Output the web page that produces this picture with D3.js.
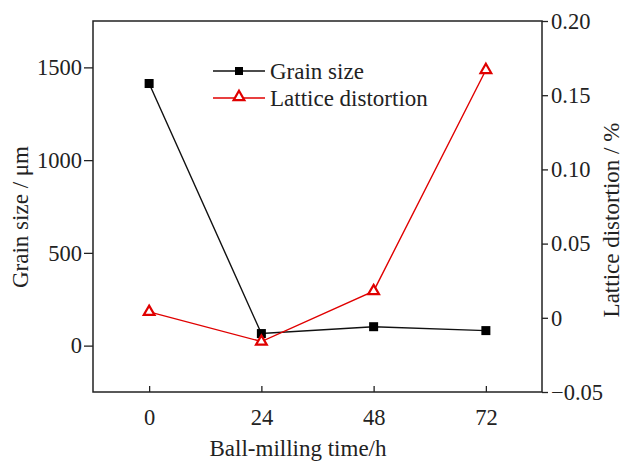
<!DOCTYPE html>
<html>
<head>
<meta charset="utf-8">
<script src="https://cdn.jsdelivr.net/npm/d3@7"></script>
<style>
  body { margin: 0; background: #fff; }
  text { font-family: "Liberation Serif", "Times New Roman", serif; fill: #222; }
</style>
</head>
<body>
<svg id="chart" width="627" height="461"></svg>
<script>
// data
var times = [0, 24, 48, 72];
var grainSize = [1413, 65, 102, 81];
var latticeDistortion = [0.004, -0.016, 0.018, 0.167];
var xTicks = [0, 24, 48, 72];
var leftTicks = [0, 500, 1000, 1500];
var rightTicks = [-0.05, 0, 0.05, 0.10, 0.15, 0.20];

var svg = d3.select("#chart"),
    pLeft = 93, pRight = 542, pTop = 21, pBottom = 392;
var red = "#e00000";
var fs = "22.5px";

var x = d3.scaleLinear().domain([-12, 84]).range([pLeft, pRight]);
var yL = d3.scaleLinear().domain([-250, 1750]).range([pBottom, pTop]);
var yR = d3.scaleLinear().domain([-0.05, 0.20]).range([pBottom, pTop]);

// frame
svg.append("rect")
   .attr("x", pLeft).attr("y", pTop)
   .attr("width", pRight - pLeft).attr("height", pBottom - pTop)
   .attr("fill", "none").attr("stroke", "#222").attr("stroke-width", 1.5);

// bottom axis, ticks point inward
var gx = svg.append("g").attr("transform", "translate(0," + pBottom + ")")
   .call(d3.axisBottom(x).tickValues(xTicks).tickSizeInner(-6).tickSizeOuter(0).tickPadding(17));
gx.select(".domain").remove();
gx.selectAll("text").attr("font-size", fs);

var gl = svg.append("g").attr("transform", "translate(" + pLeft + ",0)")
   .call(d3.axisLeft(yL).tickValues(leftTicks).tickFormat(d3.format("d")).tickSizeOuter(0).tickSize(9).tickPadding(2));
gl.select(".domain").remove();
gl.selectAll("text").attr("font-size", fs);

var gr = svg.append("g").attr("transform", "translate(" + pRight + ",0)")
   .call(d3.axisRight(yR).tickValues(rightTicks).tickSizeOuter(0).tickSize(6).tickPadding(3)
     .tickFormat(function(d){ return d === 0 ? "0" : (d < 0 ? "\u22120.05" : d3.format(".2f")(d)); }));
gr.select(".domain").remove();
gr.selectAll("text").attr("font-size", fs);

svg.selectAll(".tick line").attr("stroke", "#222").attr("stroke-width", 1.3);

// axis titles
svg.append("text")
   .attr("transform", "translate(28," + 217 + ") rotate(-90)")
   .attr("text-anchor", "middle").attr("font-size", "23px")
   .text("Grain size / \u03bcm");

svg.append("text")
   .attr("transform", "translate(619," + 220 + ") rotate(-90)")
   .attr("text-anchor", "middle").attr("font-size", "23px")
   .text("Lattice distortion / %");

svg.append("text")
   .attr("x", 298).attr("y", 456)
   .attr("text-anchor", "middle").attr("font-size", "23px")
   .text("Ball-milling time/h");

// grain size series
var lineL = d3.line().x(function(d, i){ return x(times[i]); }).y(function(d){ return yL(d); });
svg.append("path").datum(grainSize)
   .attr("d", lineL).attr("fill", "none").attr("stroke", "#111").attr("stroke-width", 1.4);

// lattice series
var lineR = d3.line().x(function(d, i){ return x(times[i]); }).y(function(d){ return yR(d); });
svg.append("path").datum(latticeDistortion)
   .attr("d", lineR).attr("fill", "none").attr("stroke", red).attr("stroke-width", 1.4);

svg.selectAll(".sq").data(grainSize).enter().append("rect")
   .attr("x", function(d, i){ return x(times[i]) - 4.5; })
   .attr("y", function(d){ return yL(d) - 4.5; })
   .attr("width", 9).attr("height", 9).attr("fill", "#000");

var tri = d3.symbol().type(d3.symbolTriangle).size(50);
svg.selectAll(".tri").data(latticeDistortion).enter().append("path")
   .attr("d", tri)
   .attr("transform", function(d, i){ return "translate(" + x(times[i]) + "," + yR(d) + ")"; })
   .attr("fill", "#fff").attr("stroke", red).attr("stroke-width", 2.2);

// legend
var lg = svg.append("g");
lg.append("line").attr("x1", 213).attr("x2", 265).attr("y1", 71).attr("y2", 71)
  .attr("stroke", "#111").attr("stroke-width", 1.4);
lg.append("rect").attr("x", 235).attr("y", 67).attr("width", 8).attr("height", 8).attr("fill", "#000");
lg.append("text").attr("x", 270).attr("y", 79).attr("font-size", "23px").text("Grain size");

lg.append("line").attr("x1", 213).attr("x2", 265).attr("y1", 98).attr("y2", 98)
  .attr("stroke", red).attr("stroke-width", 1.4);
lg.append("path").attr("d", tri).attr("transform", "translate(239,97)")
  .attr("fill", "#fff").attr("stroke", red).attr("stroke-width", 2.2);
lg.append("text").attr("x", 270).attr("y", 106).attr("font-size", "23px").text("Lattice distortion");
</script>
</body>
</html>
